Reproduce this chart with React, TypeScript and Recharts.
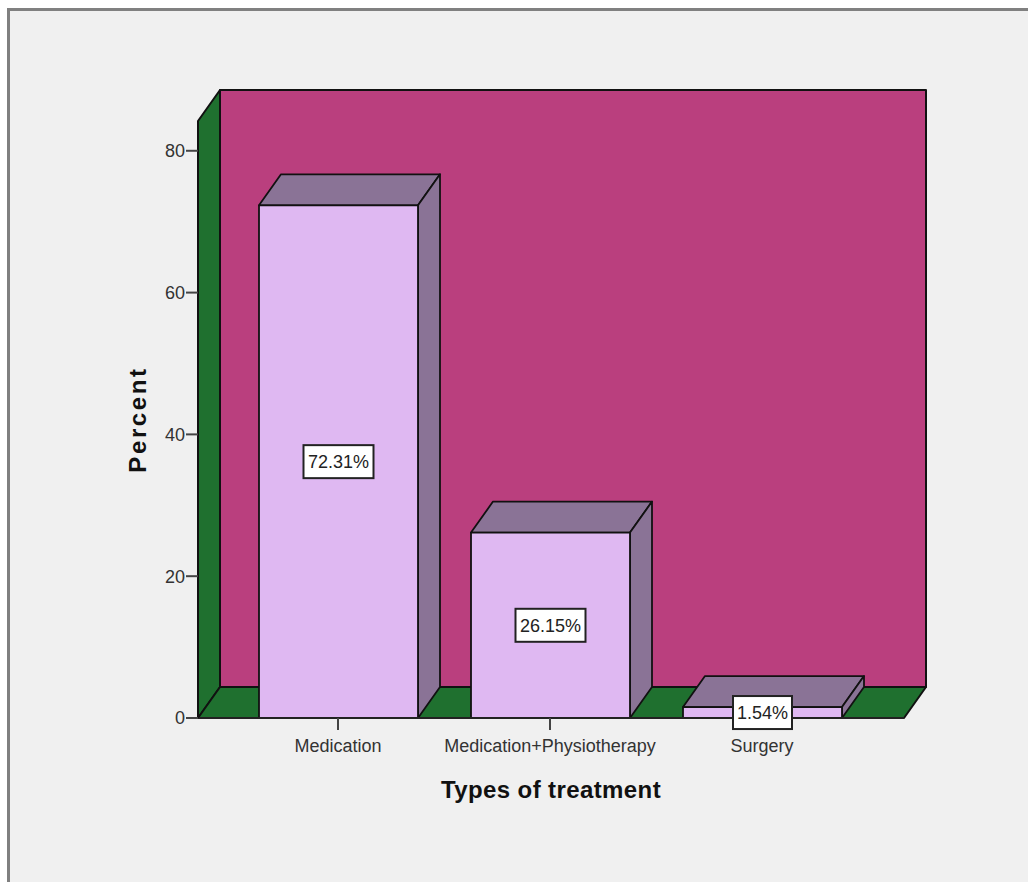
import React from 'react';
import { BarChart, Bar, XAxis, YAxis, ReferenceArea, LabelList, usePlotArea } from 'recharts';

const treatments = ['Medication', 'Medication+Physiotherapy', 'Surgery'];
const percents = [72.31, 26.15, 1.54];
const percentTicks = [0, 20, 40, 60, 80];
const axisMax = 84.2;

const rows = treatments.map((name, i) => ({ name, percent: percents[i] }));

const FONT = '"Liberation Sans", Arial, sans-serif';
const DEPTH_X = 22;
const DEPTH_Y = 31;
const EDGE = '#111';

const poly = (pts: number[][]) => pts.map((p) => p.join(',')).join(' ');

// back wall, left wall and floor of the 3D box, sized from the full plot area
const Walls = () => {
  const plot = usePlotArea();
  if (!plot) return null;
  const { x, y, width, height } = plot;
  const r = x + width;
  const b = y + height;
  return (
    <g stroke={EDGE} strokeWidth={2} strokeLinejoin="round">
      <polygon
        fill="#1f702f"
        points={poly([[x, y], [x + DEPTH_X, y - DEPTH_Y], [x + DEPTH_X, b - DEPTH_Y], [x, b]])}
      />
      <polygon
        fill="#1f702f"
        points={poly([[x, b], [x + DEPTH_X, b - DEPTH_Y], [r + DEPTH_X, b - DEPTH_Y], [r, b]])}
      />
      <rect
        x={x + DEPTH_X}
        y={y - DEPTH_Y}
        width={width}
        height={height}
        fill="#ba3f7e"
      />
    </g>
  );
};

const Bar3D = ({ x, y, width, height }: any) => {
  const r = x + width;
  const b = y + height;
  return (
    <g stroke={EDGE} strokeWidth={1.8} strokeLinejoin="round">
      <polygon
        fill="#8a7396"
        points={poly([[x, y], [x + DEPTH_X, y - DEPTH_Y], [r + DEPTH_X, y - DEPTH_Y], [r, y]])}
      />
      <polygon
        fill="#8a7396"
        points={poly([[r, y], [r + DEPTH_X, y - DEPTH_Y], [r + DEPTH_X, b - DEPTH_Y], [r, b]])}
      />
      <rect x={x} y={y} width={width} height={height} fill="#dfb8f2" />
    </g>
  );
};

const ValueBox = ({ x, y, width, height, value }: any) => {
  const text = `${Number(value).toFixed(2)}%`;
  const boxW = text.length === 6 ? 70 : 59;
  const boxH = 33;
  const cx = x + width / 2;
  const cy = y + height / 2;
  return (
    <g>
      <rect
        x={cx - boxW / 2}
        y={cy - boxH / 2}
        width={boxW}
        height={boxH}
        fill="#fff"
        stroke="#222"
        strokeWidth={2}
      />
      <text
        x={cx}
        y={cy + 6.5}
        textAnchor="middle"
        fontFamily={FONT}
        fontSize={18}
        fill="#222"
      >
        {text}
      </text>
    </g>
  );
};

export default function App() {
  return (
    <div style={{ position: 'relative', width: 1028, height: 882, background: '#fff', overflow: 'hidden' }}>
      <style>{'body{margin:0}'}</style>
      <div
        style={{
          position: 'absolute',
          left: 7,
          top: 8,
          width: 1021,
          height: 874,
          boxSizing: 'border-box',
          background: '#f0f0f0',
          borderLeft: '3px solid #808080',
          borderTop: '3px solid #808080',
        }}
      />
      <div style={{ position: 'absolute', left: 0, top: 0 }}>
        <BarChart
          width={1028}
          height={882}
          data={rows}
          margin={{ top: 121, right: 124, bottom: 0, left: 0 }}
          barSize={159}
        >
          <ReferenceArea
            y1={0}
            y2={axisMax}
            ifOverflow="visible"
            shape={() => <Walls />}
          />
          <XAxis
            dataKey="name"
            height={164}
            padding={{ left: 34, right: 36 }}
            interval={0}
            tickSize={12}
            tickMargin={9}
            tickLine={{ stroke: '#444', strokeWidth: 2 }}
            axisLine={{ stroke: '#222', strokeWidth: 2 }}
            tick={{ fontFamily: FONT, fontSize: 18, fill: '#333' }}
            label={{
              value: 'Types of treatment',
              position: 'insideTop',
              offset: 63,
              style: { fontFamily: FONT, fontSize: 24, fontWeight: 700, fill: '#111', letterSpacing: 0.4 },
            }}
          />
          <YAxis
            width={198}
            domain={[0, axisMax]}
            ticks={percentTicks}
            tickSize={12}
            tickMargin={1}
            tickLine={{ stroke: '#444', strokeWidth: 2 }}
            axisLine={{ stroke: '#111', strokeWidth: 2 }}
            tick={{ fontFamily: FONT, fontSize: 18, fill: '#333' }}
            label={{
              value: 'Percent',
              angle: -90,
              position: 'insideLeft',
              offset: 137,
              style: { fontFamily: FONT, fontSize: 24, fontWeight: 700, fill: '#111', letterSpacing: 2.6, textAnchor: 'middle' },
            }}
          />
          <Bar dataKey="percent" shape={Bar3D} isAnimationActive={false}>
            <LabelList dataKey="percent" content={ValueBox} />
          </Bar>
        </BarChart>
      </div>
    </div>
  );
}
